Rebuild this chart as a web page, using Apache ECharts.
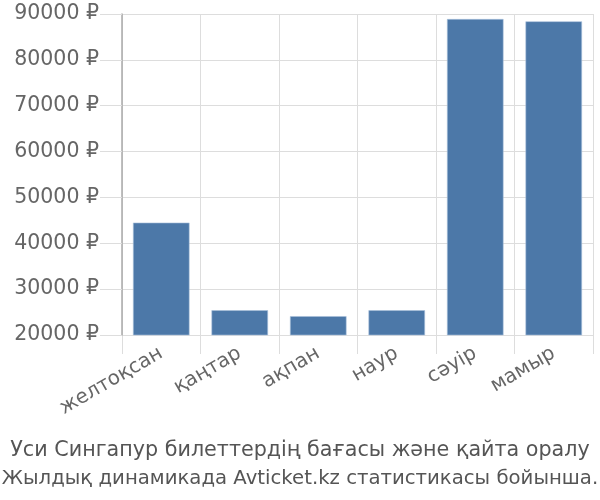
<!DOCTYPE html>
<html><head><meta charset="utf-8">
<script src="https://cdn.jsdelivr.net/npm/echarts@6/dist/echarts.min.js"></script>
<style>html,body{margin:0;padding:0;background:#fff}#c{width:600px;height:500px}</style>
</head><body><div id="c"></div>
<script>
const categories = ['желтоқсан', 'қаңтар', 'ақпан', 'наур', 'сәуір', 'мамыр'];
const prices = [44500, 25400, 24100, 25400, 88900, 88400];
const yTicks = [20000, 30000, 40000, 50000, 60000, 70000, 80000, 90000];
const titleLines = ['Уси Сингапур билеттердің бағасы және қайта оралу', 'Жылдық динамикада Avticket.kz статистикасы бойынша.'];

const FONT = 'DejaVu Sans, sans-serif';
const chart = echarts.init(document.getElementById('c'), null, {renderer: 'canvas'});
chart.setOption({
  animation: false,
  textStyle: {fontFamily: FONT},
  title: [
    {text: titleLines[0], left: 'center', top: 434,
     textStyle: {fontSize: 20.7, fontWeight: 'normal', color: '#555', lineHeight: 24, fontFamily: FONT}},
    {text: titleLines[1], left: 'center', top: 462,
     textStyle: {fontSize: 19.7, fontWeight: 'normal', color: '#555', lineHeight: 24, fontFamily: FONT}}
  ],
  grid: {left: 122, right: 7, top: 14, bottom: 165},
  xAxis: {
    type: 'category',
    data: categories,
    z: 1,
    axisLine: {lineStyle: {color: '#ddd', width: 1}},
    axisTick: {show: true, length: 19, lineStyle: {color: '#ddd'}},
    splitLine: {show: true, lineStyle: {color: '#ddd'}},
    axisLabel: {rotate: 30, fontSize: 20, color: '#666', margin: 17, interval: 0, fontFamily: FONT}
  },
  yAxis: {
    type: 'value',
    z: 5,
    min: yTicks[0], max: yTicks[yTicks.length - 1], interval: 10000,
    axisLine: {show: true, lineStyle: {color: '#aaa', width: 1.5}},
    axisTick: {show: true, length: 22, lineStyle: {color: '#ddd'}},
    splitLine: {show: true, lineStyle: {color: '#ddd'}},
    axisLabel: {fontSize: 20.5, color: '#666', margin: 23, fontFamily: FONT, formatter: v => v + ' ₽'}
  },
  series: [{
    type: 'bar',
    z: 10,
    data: prices,
    barCategoryGap: '28%',
    itemStyle: {color: '#4c78a8', borderColor: '#a9c1dc', borderWidth: 0.6}
  }]
});
</script></body></html>
